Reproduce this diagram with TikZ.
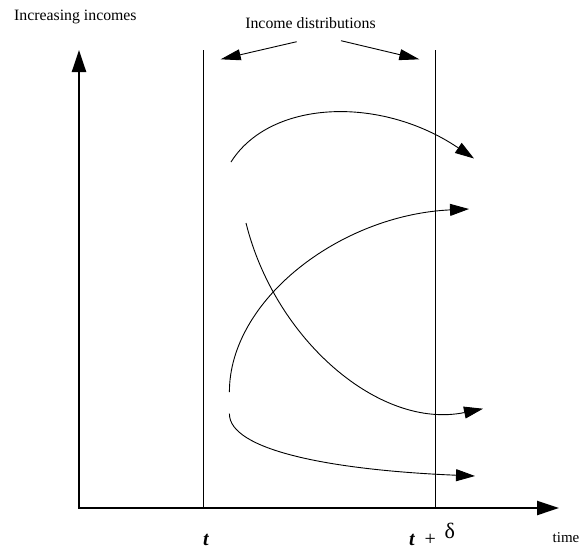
\documentclass[tikz,border=0pt]{standalone}
\usepackage{fontspec}
\setmainfont{Liberation Serif}
\usetikzlibrary{arrows.meta}
\begin{document}
\begin{tikzpicture}[x=1pt,y=-1pt,
  guide/.style={line width=0.8pt},
  axisline/.style={line width=2.4pt, line join=miter,
    {Triangle[length=22pt,width=14pt]}-{Triangle[length=22pt,width=14pt]}},
  flow/.style={line width=0.9pt, -{Triangle[length=19pt,width=12pt]}},
  pointer/.style={line width=0.9pt, -{Triangle[length=20pt,width=11pt]}},
  lbl/.style={inner sep=0pt, font=\fontsize{15.8}{18}\selectfont},
  tlbl/.style={inner sep=0pt, font=\fontsize{20}{22}\selectfont\bfseries\itshape}]
\useasboundingbox (0,0) rectangle (580,549);

% axes
\coordinate (ytip) at (79,50);
\coordinate (O) at (79,508);
\coordinate (xtip) at (559,508);
\draw[axisline] (ytip) -- (O) -- (xtip);

% time lines
\coordinate (Ltop) at (203,50);
\coordinate (Lbot) at (203,508);
\coordinate (Rtop) at (435.5,50);
\coordinate (Rbot) at (435.5,508);
\draw[guide] (Ltop) -- (Lbot);
\draw[guide] (Rtop) -- (Rbot);

% labels
\node[lbl, anchor=base west] (yl) at (14,20) {Increasing incomes};
\node[lbl, anchor=base] (dist) at (310.5,28) {Income distributions};
\node[inner sep=0pt, font=\fontsize{15}{17}\selectfont, anchor=base west] (time) at (552.5,542.5) {time};
\node[tlbl, anchor=base west] (t0) at (203,545.5) {t};
\node[tlbl, anchor=base west] (t1) at (409,545) {t};
\node[inner sep=0pt, font=\fontsize{20}{22}\selectfont, anchor=base west] (plus) at (424.5,545) {+};
\node[inner sep=0pt, font=\fontsize{22}{24}\selectfont, anchor=base west] (delta) at (444.5,538) {δ};

% pointers from label
\coordinate (pl0) at (296.7,41.7);
\coordinate (pl1) at (220.7,59.3);
\coordinate (pr0) at (341,40.7);
\coordinate (pr1) at (419.3,59.3);
\draw[pointer] (pl0) -- (pl1);
\draw[pointer] (pr0) -- (pr1);

% distribution movements
\coordinate (a0) at (231,162);
\coordinate (a1) at (474,158.5);
\draw[flow] (a0) .. controls (270,100) and (380,95) .. (a1);

\coordinate (b0) at (229.4,392);
\coordinate (b1) at (469,209);
\draw[flow] (b0) .. controls (229.4,300) and (340,215) .. (b1);

\coordinate (c0) at (246,223);
\coordinate (c1) at (483,408.7);
\draw[flow] (c0) .. controls (275,340) and (380,430) .. (c1);

\coordinate (d0) at (229.4,413.6);
\coordinate (d1) at (475,476);
\draw[flow] (d0) .. controls (229,450) and (330,470) .. (d1);
\end{tikzpicture}
\end{document}
